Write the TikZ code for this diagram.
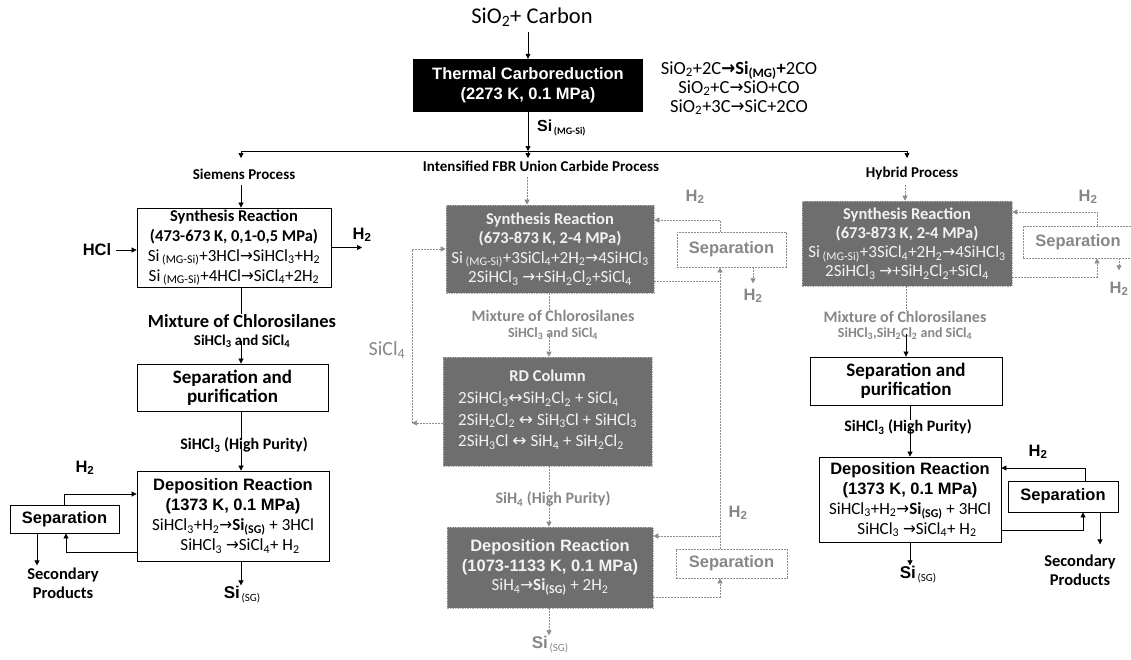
\documentclass[tikz,border=0pt]{standalone}
\usepackage{graphicx}
\usepackage{fontspec}
\setmainfont{Carlito}
\newfontfamily\arl{Liberation Sans}
\newfontfamily\dvsym{DejaVu Sans}
\usetikzlibrary{arrows.meta,calc}

\definecolor{boxgray}{RGB}{110,110,110}
\definecolor{boxtext}{RGB}{242,242,242}
\definecolor{linegray}{RGB}{140,140,140}
\definecolor{txtgray}{RGB}{135,135,135}
\definecolor{edgegray}{RGB}{175,175,175}

\newcommand{\fs}[2]{\fontsize{#1}{#2}\selectfont}
\newcommand{\sbs}[1]{\textsubscript{#1}}
\newcommand{\ra}{{\dvsym\scalebox{0.9}[1]{→}}}
\newcommand{\bra}{{\dvsym\bfseries\scalebox{0.9}[1]{→}}}
\newcommand{\lra}{{\dvsym ↔}}
\newcommand{\sisg}{{\arl\bfseries\fs{17}{20}Si}\,\raisebox{-3pt}{\fs{11}{12}(SG)}}

\begin{document}
\begin{tikzpicture}[x=1pt,y=-1pt,
  arr/.style={-{Triangle[length=5pt,width=5pt]},line width=0.7pt,draw=black},
  sln/.style={line width=0.7pt,draw=black},
  dln/.style={line width=0.7pt,draw=linegray,dash pattern=on 2pt off 1pt},
  darr/.style={dln,-{Triangle[length=5pt,width=5pt]}},
  wbox/.style={draw=black,line width=0.8pt,fill=white,inner sep=0pt,align=center},
  gbox/.style={draw=edgegray,dash pattern=on 1.5pt off 1pt,line width=0.6pt,fill=boxgray,text=boxtext,inner sep=0pt,align=center},
  dbox/.style={draw=linegray,dash pattern=on 2pt off 1pt,line width=0.7pt,fill=white,text=txtgray,inner sep=0pt,align=center,font=\arl\bfseries\fs{16.5}{20}},
  lbl/.style={inner sep=0pt,align=center},
  hlbl/.style={lbl,font=\arl\bfseries\fs{16.5}{20}},
]
\fill[white] (0,0) rectangle (1131,659);
\useasboundingbox (0,0) rectangle (1131,659);

% ---------- feed and carboreduction ----------
\node[lbl,font=\fs{22.5}{24}] (feed) at (532,17) {SiO\sbs{2}+ Carbon};
\node[fill=black,text=white,inner sep=0pt,align=center,minimum width=230pt,minimum height=53pt,
      font=\arl\bfseries\fs{16.5}{20}] (thermal) at (528,85.5) {Thermal Carboreduction\\(2273 K, 0.1 MPa)};
\node[lbl,font=\fs{18.5}{19}] (eqtop) at (739,88)
  {SiO\sbs{2}+2C\bra\textbf{Si\sbs{(MG)}+}2CO\\SiO\sbs{2}+C\ra SiO+CO\\SiO\sbs{2}+3C\ra SiC+2CO};
\node[lbl,anchor=west] (simg) at (537,128) {{\arl\bfseries\fs{16}{20}Si}\,\raisebox{-3pt}{\bfseries\fs{10}{12}(MG-Si)}};

\draw[arr] ($(thermal.north |- feed.south)+(0,5)$) -- (thermal.north);

\coordinate (busL) at (241,151);
\coordinate (busM) at (528,151);
\coordinate (busR) at (907,151);
\draw[sln] (busL) -- (busR);
\draw[arr] (thermal.south) -- (busM);
\draw[arr] (busL) -- ++(0,7);
\draw[arr] (busM) -- ++(0,7);
\draw[arr] (busR) -- ++(0,7);

\node[lbl,font=\bfseries\fs{15}{18}] (lblS) at (244,174) {Siemens Process};
\node[lbl,font=\bfseries\fs{15}{18}] (lblM) at (541,166) {Intensified FBR Union Carbide Process};
\node[lbl,font=\bfseries\fs{15}{18}] (lblH) at (912,173) {Hybrid Process};

% ---------- Siemens process ----------
\coordinate (cS) at (241,0);
\node[wbox,minimum width=194pt,minimum height=79pt,font=\fs{17}{20}] (synS) at (234,247.5)
  {{\bfseries\fs{16.5}{20}Synthesis Reaction}\\{\bfseries\fs{16.5}{20}(473-673 K, 0,1-0,5 MPa)}\\
   Si\sbs{ (MG-Si)}+3HCl\ra SiHCl\sbs{3}+H\sbs{2}\\Si\sbs{ (MG-Si)}+4HCl\ra SiCl\sbs{4}+2H\sbs{2}};
\node[hlbl] (hcl) at (97,250) {HCl};
\node[hlbl] (h2S) at (362,235) {H\sbs{2}};
\node[lbl,font=\bfseries\fs{18.5}{20}] (mixS) at (242,321) {Mixture of Chlorosilanes};
\node[lbl,font=\bfseries\fs{15}{18}] (mixS2) at (242,341) {SiHCl\sbs{3} and SiCl\sbs{4}};
\node[wbox,minimum width=191pt,minimum height=47pt,font=\bfseries\fs{19}{19}] (sepS) at (232.5,387.5) {Separation and\\purification};
\node[lbl,font=\bfseries\fs{16}{18}] (hpS) at (244,445) {SiHCl\sbs{3} (High Purity)};
\node[wbox,minimum width=192pt,minimum height=90pt,font=\fs{17}{20}] (depS) at (233,516)
  {{\arl\bfseries\fs{16.5}{20}Deposition Reaction}\\{\arl\bfseries\fs{16.5}{20}(1373 K, 0.1 MPa)}\\
   SiHCl\sbs{3}+H\sbs{2}\ra\textbf{Si\sbs{(SG)}} + 3HCl\\\hspace*{14pt}SiHCl\sbs{3} \ra SiCl\sbs{4}+ H\sbs{2}};
\node[wbox,minimum width=109pt,minimum height=28pt,font=\arl\bfseries\fs{16.5}{20}] (sepL) at (64.5,519) {Separation};
\node[hlbl] (h2L) at (85,468) {H\sbs{2}};
\node[lbl,font=\bfseries\fs{16.5}{19}] (secL) at (63,583.5) {Secondary\\Products};
\node[lbl] (siS) at (242,595) {\sisg};

\draw[arr] ($(cS |- lblS.south)+(0,5)$) -- (cS |- synS.north);
\draw[arr] ($(hcl.east)+(5,0)$) -- (synS.west |- hcl.east);
\draw[arr] (synS.east) -- (synS.east -| h2S.center);
\draw[sln] (cS |- synS.south) -- (cS |- mixS.north);
\draw[arr] (cS |- mixS2.center) -- (cS |- sepS.north);
\draw[sln] (cS |- sepS.south) -- (cS |- hpS.north);
\draw[arr] (cS |- hpS.center) -- (cS |- depS.north);
\draw[arr] (cS |- depS.south) -- ($(cS |- siS.north)+(0,-1)$);
\draw[arr] (sepL.north) |- ($(depS.west)+(0,-22)$);
\draw[arr] ($(depS.west)+(0,36)$) -| ($(sepL.south)+(1.5,0)$);
\draw[arr] ($(sepL.south)+(-27.5,0)$) -- ($(sepL.south)+(-27.5,32)$);

% ---------- intensified FBR process ----------
\coordinate (cM) at (527,0);
\coordinate (cM2) at (549,0);
\coordinate (lx) at (412,0);
\coordinate (vx) at (720,0);
\node[gbox,minimum width=208pt,minimum height=88pt,font=\fs{17}{19.5}] (synM) at (550,249)
  {{\bfseries\fs{16.5}{19.5}Synthesis Reaction}\\{\bfseries\fs{16.5}{19.5}(673-873 K, 2-4 MPa)}\\
   Si\sbs{ (MG-Si)}+3SiCl\sbs{4}+2H\sbs{2}\ra4SiHCl\sbs{3}\\2SiHCl\sbs{3} \ra+SiH\sbs{2}Cl\sbs{2}+SiCl\sbs{4}};
\node[lbl,text=txtgray,font=\bfseries\fs{16}{19}] (mixM) at (553,316) {Mixture of Chlorosilanes};
\node[lbl,text=txtgray,font=\bfseries\fs{14}{15}] (mixM2) at (553,334) {SiHCl\sbs{3} and SiCl\sbs{4}};
\node[gbox,minimum width=209pt,minimum height=109pt] (rd) at (547.5,411.5)
  {{\bfseries\fs{16.5}{20}RD Column}\\[6pt]{\fs{17}{21.5}\begin{tabular}[t]{@{}l@{}}
   2SiHCl\sbs{3}\lra SiH\sbs{2}Cl\sbs{2} + SiCl\sbs{4}\\
   2SiH\sbs{2}Cl\sbs{2} \lra{} SiH\sbs{3}Cl + SiHCl\sbs{3}\\
   2SiH\sbs{3}Cl \lra{} SiH\sbs{4} + SiH\sbs{2}Cl\sbs{2}\end{tabular}}};
\node[lbl,text=txtgray,font=\fs{20}{22}] (sicl) at (387,350) {SiCl\sbs{4}};
\node[lbl,text=txtgray,font=\bfseries\fs{16}{18}] (hpM) at (553,499) {SiH\sbs{4} (High Purity)};
\node[gbox,minimum width=206pt,minimum height=81pt,font=\fs{17}{19.5}] (depM) at (550,567.5)
  {{\arl\bfseries\fs{16.5}{19.5}Deposition Reaction}\\{\arl\bfseries\fs{16.5}{19.5}(1073-1133 K, 0.1 MPa)}\\
   SiH\sbs{4}\ra\textbf{Si\sbs{(SG)}} + 2H\sbs{2}};
\node[lbl,text=txtgray] (siM) at (550,645) {\sisg};
\node[dbox,minimum width=109pt,minimum height=35pt] (sepMT) at (731.5,249.5) {Separation};
\node[dbox,minimum width=111pt,minimum height=29pt] (sepMB) at (731.5,563.5) {Separation};
\node[hlbl,text=txtgray] (h2MT) at (695,197) {H\sbs{2}};
\node[hlbl,text=txtgray] (h2MS) at (753,296) {H\sbs{2}};
\node[hlbl,text=txtgray] (h2MB) at (738,513) {H\sbs{2}};

\draw[darr] ($(cM |- lblM.south)+(0,5)$) -- (cM |- synM.north);
\draw[dln] (cM2 |- synM.south) -- (cM2 |- mixM.north);
\draw[darr] (cM2 |- mixM2.center) -- (cM2 |- rd.north);
\draw[dln] (cM2 |- rd.south) -- (cM2 |- hpM.north);
\draw[darr] (cM2 |- hpM.center) -- (cM2 |- depM.north);
\draw[darr] (cM2 |- depM.south) -- ($(cM2 |- siM.north)+(0,-1)$);
\draw[darr] ($(rd.west)+(0,11.5)$) -- ($(lx |- rd.west)+(0,11.5)$);
\draw[darr] ($(lx |- rd.west)+(0,11.5)$) |- (synM.west);
\draw[darr] (vx |- sepMB.north) -- (vx |- sepMT.south);
\draw[dln] ($(synM.east)+(0,32)$) -- ($(vx |- synM.east)+(0,32)$);
\draw[darr] ($(vx |- depM.east)+(0,-31.5)$) -- ($(depM.east)+(0,-31.5)$);
\draw[darr] ($(depM.east)+(0,29.5)$) -| (vx |- sepMB.south);
\draw[darr] (vx |- sepMT.north) |- ($(synM.east)+(0,-29)$);
\draw[darr] ($(sepMT.south)+(21.5,0)$) -- ($(sepMT.south)+(21.5,16)$);

% ---------- hybrid process ----------
\coordinate (cR) at (905,0);
\coordinate (cR2) at (906,0);
\coordinate (cR3) at (910,0);
\coordinate (rx) at (1097,0);
\coordinate (rx2) at (1119,0);
\node[gbox,minimum width=210pt,minimum height=85pt,font=\fs{17}{19}] (synR) at (907,243.5)
  {{\bfseries\fs{16.5}{19}Synthesis Reaction}\\{\bfseries\fs{16.5}{19}(673-873 K, 2-4 MPa)}\\
   Si\sbs{ (MG-Si)}+3SiCl\sbs{4}+2H\sbs{2}\ra4SiHCl\sbs{3}\\2SiHCl\sbs{3} \ra+SiH\sbs{2}Cl\sbs{2}+SiCl\sbs{4}};
\node[dbox,minimum width=110pt,minimum height=32pt] (sepRT) at (1078,242) {Separation};
\node[hlbl,text=txtgray] (h2RT) at (1088,197) {H\sbs{2}};
\node[hlbl,text=txtgray] (h2RS) at (1119,289) {H\sbs{2}};
\node[lbl,text=txtgray,font=\bfseries\fs{16}{19}] (mixR) at (905,317) {Mixture of Chlorosilanes};
\node[lbl,text=txtgray,font=\bfseries\fs{14}{15}] (mixR2) at (905,334) {SiHCl\sbs{3},SiH\sbs{2}Cl\sbs{2} and SiCl\sbs{4}};
\node[wbox,minimum width=192pt,minimum height=48pt,font=\bfseries\fs{19}{19}] (sepR) at (906,381) {Separation and\\purification};
\node[lbl,font=\bfseries\fs{16}{18}] (hpR) at (908,427) {SiHCl\sbs{3} (High Purity)};
\node[wbox,minimum width=182pt,minimum height=85pt,font=\fs{17}{20}] (depR) at (910,499.5)
  {{\arl\bfseries\fs{16.5}{20}Deposition Reaction}\\{\arl\bfseries\fs{16.5}{20}(1373 K, 0.1 MPa)}\\
   SiHCl\sbs{3}+H\sbs{2}\ra\textbf{Si\sbs{(SG)}} + 3HCl\\\hspace*{14pt}SiHCl\sbs{3} \ra SiCl\sbs{4}+ H\sbs{2}};
\node[wbox,minimum width=110pt,minimum height=31pt,font=\arl\bfseries\fs{16.5}{20}] (sepR2) at (1063,496.5) {Separation};
\node[hlbl] (h2R) at (1038,452) {H\sbs{2}};
\node[lbl,font=\bfseries\fs{16.5}{19}] (secR) at (1080,570) {Secondary\\Products};
\node[lbl] (siR) at (918,575) {\sisg};

\draw[darr] ($(cR |- lblH.south)+(0,5)$) -- (cR |- synR.north);
\draw[dln] (cR2 |- synR.south) -- (cR2 |- mixR.north);
\draw[arr] (cR2 |- mixR2.center) -- (cR2 |- sepR.north);
\draw[sln] (cR3 |- sepR.south) -- (cR3 |- hpR.north);
\draw[arr] (cR3 |- hpR.center) -- (cR3 |- depR.north);
\draw[arr] (cR3 |- depR.south) -- ($(cR3 |- siR.north)+(0,-1)$);
\draw[darr] (rx |- sepRT.north) |- ($(synR.east)+(0,-31.5)$);
\draw[darr] ($(synR.east)+(0,33.5)$) -| (rx |- sepRT.south);
\draw[darr] (rx2 |- sepRT.south) -- ($(rx2 |- sepRT.south)+(0,12)$);
\draw[arr] ($(sepR2.north)+(22,0)$) |- ($(depR.east)+(0,-31.5)$);
\draw[arr] ($(depR.east)+(0,30.5)$) -| ($(sepR2.south)+(20,0)$);
\draw[arr] ($(sepR2.south)+(37,0)$) -- ($(sepR2.south)+(37,32)$);
\end{tikzpicture}
\end{document}
